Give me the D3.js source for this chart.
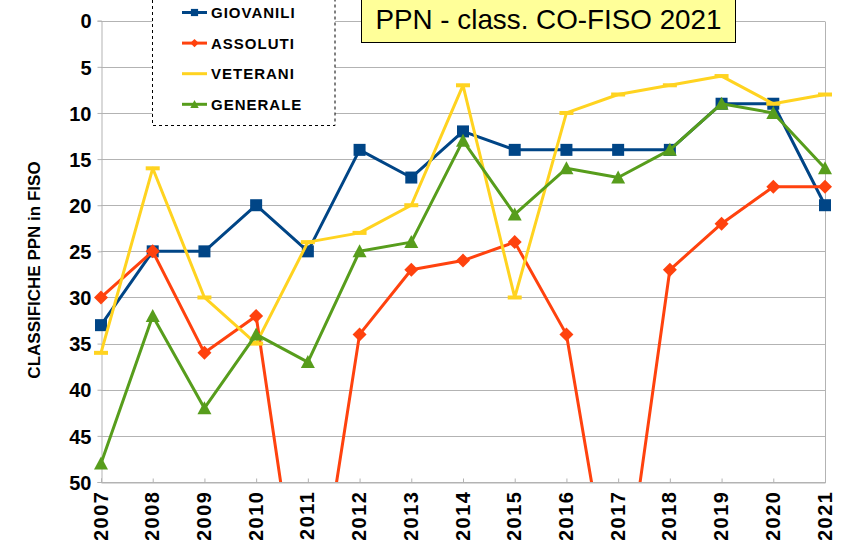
<!DOCTYPE html>
<html>
<head>
<meta charset="utf-8">
<script src="https://cdn.jsdelivr.net/npm/d3@7"></script>
<style>
  html, body { margin: 0; padding: 0; background: #ffffff; }
  svg { display: block; }
  text { font-family: "Liberation Sans", Arial, sans-serif; }
</style>
</head>
<body>
<svg id="chart" width="857" height="540"></svg>
<script>
// ---- data ----
const years = [2007, 2008, 2009, 2010, 2011, 2012, 2013, 2014, 2015, 2016, 2017, 2018, 2019, 2020, 2021];
const giovanili = [33, 25, 25, 20, 25, 14, 17, 12, 14, 14, 14, 14, 9, 9, 20];
const assoluti  = [30, 25, 36, 32, 70, 34, 27, 26, 24, 34, 67, 27, 22, 18, 18];
const veterani  = [36, 16, 30, 35, 24, 23, 20, 7, 30, 10, 8, 7, 6, 9, 8];
const generale  = [48, 32, 42, 34, 37, 25, 24, 13, 21, 16, 17, 14, 9, 10, 16];
const seriesNames = ["GIOVANILI", "ASSOLUTI", "VETERANI", "GENERALE"];
const yTicks = [0, 5, 10, 15, 20, 25, 30, 35, 40, 45, 50];
const titleText = "PPN - class. CO-FISO 2021";
const yTitle = "CLASSIFICHE PPN in FISO";

const colors = ["#004586", "#ff420e", "#ffd320", "#579d1c"];
const markers = ["square", "diamond", "dash", "triangle"];
const allSeries = [giovanili, assoluti, veterani, generale];

const svg = d3.select("#chart");
const pLeft = 101, pRight = 825, pTop = 20.7, pBottom = 482;

const x = d3.scaleLinear().domain([2007, 2021]).range([pLeft, pRight]);
const y = d3.scaleLinear().domain([0, 50]).range([pTop, pBottom]);

svg.append("rect").attr("width", 857).attr("height", 540).attr("fill", "#fff");

// clip
svg.append("defs").append("clipPath").attr("id", "plotclip")
  .append("rect").attr("x", pLeft - 10).attr("y", pTop - 10)
  .attr("width", pRight - pLeft + 20).attr("height", pBottom - pTop + 10);

// gridlines
svg.append("g").selectAll("line").data(yTicks).join("line")
  .attr("x1", pLeft).attr("x2", pRight)
  .attr("y1", d => Math.round(y(d)) + 0.5).attr("y2", d => Math.round(y(d)) + 0.5)
  .attr("stroke", "#b3b3b3").attr("stroke-width", 1);

// right border
svg.append("line")
  .attr("x1", pRight + 0.5).attr("x2", pRight + 0.5)
  .attr("y1", Math.round(pTop) + 0.5).attr("y2", Math.round(pBottom) + 0.5)
  .attr("stroke", "#b3b3b3");

// y axis
const yAxis = svg.append("g")
  .attr("transform", `translate(${pLeft + 0.5},0)`)
  .call(d3.axisLeft(y).tickValues(yTicks).tickSize(4).tickPadding(6).tickFormat(d3.format("d")));
yAxis.select(".domain").attr("stroke", "#b3b3b3");
yAxis.selectAll(".tick line").attr("stroke", "#b3b3b3");
yAxis.selectAll(".tick text")
  .attr("font-family", '"Liberation Sans", Arial, sans-serif')
  .attr("font-size", 20).attr("font-weight", "bold").attr("fill", "#000")
  .attr("dy", "0.36em");

// x axis
const xAxis = svg.append("g")
  .attr("transform", `translate(0,${Math.round(pBottom) + 0.5})`)
  .call(d3.axisBottom(x).tickValues(years).tickSize(-4).tickFormat(d3.format("d")));
xAxis.select(".domain").attr("stroke", "#b3b3b3");
xAxis.selectAll(".tick line").attr("stroke", "#b3b3b3");
xAxis.selectAll(".tick text")
  .attr("font-family", '"Liberation Sans", Arial, sans-serif')
  .attr("font-size", 20).attr("font-weight", "bold").attr("fill", "#000")
  .attr("letter-spacing", "1.5px")
  .attr("text-anchor", "end")
  .attr("transform", "translate(6,8) rotate(-90)")
  .attr("x", 0).attr("y", 0).attr("dy", 0);

// y axis title
svg.append("text")
  .attr("transform", "translate(40,270) rotate(-90)")
  .attr("text-anchor", "middle")
  .attr("font-size", 17).attr("font-weight", "bold").attr("fill", "#000")
  .text(yTitle);

// series
const line = d3.line().x((d, i) => x(years[i])).y(d => y(d));

function drawMarker(g, type, color, cx, cy, scale) {
  const s = scale || 1;
  if (type === "square") {
    g.append("rect").attr("x", cx - 6 * s).attr("y", cy - 6 * s)
      .attr("width", 12 * s).attr("height", 12 * s).attr("fill", color);
  } else if (type === "diamond") {
    g.append("path").attr("d", `M${cx},${cy - 7 * s}L${cx + 7 * s},${cy}L${cx},${cy + 7 * s}L${cx - 7 * s},${cy}Z`)
      .attr("fill", color);
  } else if (type === "dash") {
    g.append("rect").attr("x", cx - 7 * s).attr("y", cy - 2)
      .attr("width", 14 * s).attr("height", 4).attr("fill", color);
  } else if (type === "triangle") {
    g.append("path").attr("d", `M${cx},${cy - 7 * s}L${cx + 7 * s},${cy + 6 * s}L${cx - 7 * s},${cy + 6 * s}Z`)
      .attr("fill", color);
  }
}

allSeries.forEach((vals, si) => {
  const g = svg.append("g");
  g.append("path").datum(vals)
    .attr("d", line)
    .attr("fill", "none")
    .attr("stroke", colors[si])
    .attr("stroke-width", 3)
    .attr("stroke-linejoin", "round")
    .attr("clip-path", "url(#plotclip)");
  vals.forEach((v, i) => {
    if (v <= 50) drawMarker(g, markers[si], colors[si], x(years[i]), y(v), 1);
  });
});

// title box
svg.append("rect")
  .attr("x", 361.5).attr("y", -3).attr("width", 374).attr("height", 45.5)
  .attr("fill", "#ffff99").attr("stroke", "#000").attr("stroke-width", 1);
svg.append("text")
  .attr("x", 548.5).attr("y", 28.5)
  .attr("text-anchor", "middle")
  .attr("font-size", 27.8).attr("fill", "#000")
  .text(titleText);

// legend
const lg = svg.append("g");
lg.append("rect")
  .attr("x", 152.5).attr("y", -5).attr("width", 182.5).attr("height", 130.5)
  .attr("fill", "#fff").attr("stroke", "#000").attr("stroke-width", 1)
  .attr("stroke-dasharray", "3,3");
seriesNames.forEach((name, i) => {
  const cy = 12.5 + i * 30.6;
  lg.append("line").attr("x1", 182).attr("x2", 207).attr("y1", cy).attr("y2", cy)
    .attr("stroke", colors[i]).attr("stroke-width", 3);
  if (markers[i] !== "dash") drawMarker(lg, markers[i], colors[i], 194.5, cy, 0.6);
  lg.append("text").attr("x", 211).attr("y", cy).attr("dy", "0.36em")
    .attr("font-size", 15).attr("font-weight", "bold").attr("fill", "#000")
    .attr("letter-spacing", "1px")
    .text(name);
});
</script>
</body>
</html>
